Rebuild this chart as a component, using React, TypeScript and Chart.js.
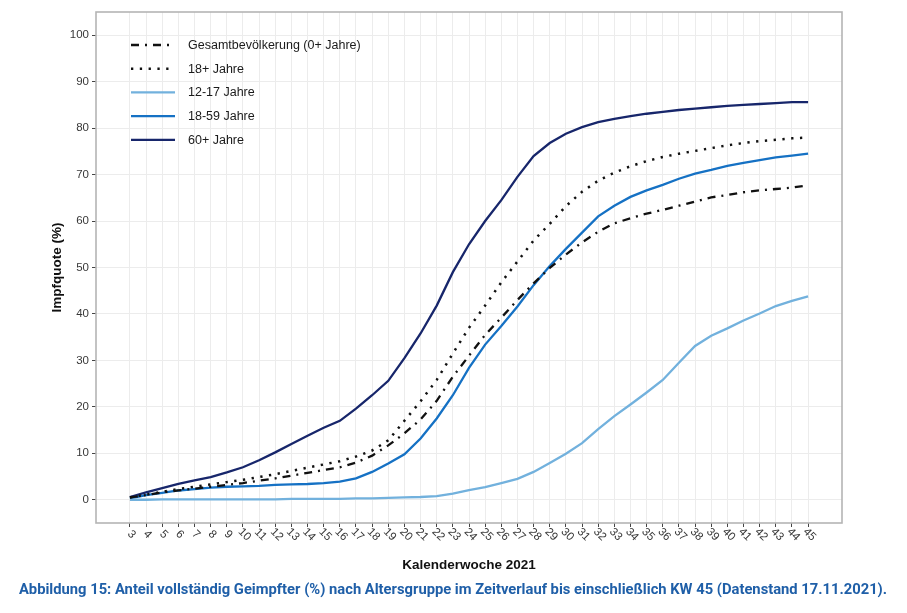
import React, { useEffect, useRef } from "react";
import { Chart, registerables } from "chart.js";

Chart.register(...registerables);

// ---------- data ----------
const weeks = [3, 4, 5, 6, 7, 8, 9, 10, 11, 12, 13, 14, 15, 16, 17, 18, 19, 20, 21, 22, 23, 24, 25, 26, 27, 28, 29, 30, 31, 32, 33, 34, 35, 36, 37, 38, 39, 40, 41, 42, 43, 44, 45];

const gesamt = [0.5, 1.0, 1.6, 2.0, 2.4, 2.8, 3.2, 3.6, 4.1, 4.6, 5.2, 5.8, 6.4, 7.0, 8.0, 9.5, 11.7, 14.3, 17.3, 21.3, 26.5, 31.0, 35.5, 39.2, 43.0, 46.6, 49.9, 52.8, 55.4, 57.7, 59.5, 60.6, 61.6, 62.4, 63.3, 64.2, 65.1, 65.6, 66.2, 66.6, 66.9, 67.2, 67.7];

const plus18 = [0.5, 1.1, 1.7, 2.3, 2.8, 3.3, 3.8, 4.3, 4.9, 5.5, 6.2, 6.9, 7.6, 8.3, 9.3, 10.6, 12.8, 17.0, 21.2, 25.8, 31.5, 37.0, 41.8, 46.8, 51.3, 55.8, 59.4, 63.2, 66.3, 68.7, 70.4, 71.8, 72.9, 73.8, 74.5, 75.1, 75.7, 76.3, 76.8, 77.2, 77.5, 77.8, 78.0];

const age12to17 = [0.0, 0.0, 0.1, 0.1, 0.1, 0.1, 0.1, 0.1, 0.1, 0.1, 0.2, 0.2, 0.2, 0.2, 0.3, 0.3, 0.4, 0.5, 0.6, 0.8, 1.3, 2.1, 2.7, 3.6, 4.5, 6.0, 7.9, 9.9, 12.2, 15.2, 18.0, 20.5, 23.1, 25.8, 29.5, 33.1, 35.3, 36.9, 38.6, 40.1, 41.7, 42.8, 43.8];

const age18to59 = [0.3, 1.0, 1.5, 2.0, 2.3, 2.6, 2.8, 2.9, 3.0, 3.2, 3.3, 3.4, 3.6, 3.9, 4.6, 6.0, 7.8, 9.8, 13.2, 17.5, 22.5, 28.4, 33.4, 37.4, 41.6, 46.2, 50.3, 54.0, 57.5, 61.0, 63.3, 65.2, 66.6, 67.8, 69.1, 70.2, 71.0, 71.9, 72.5, 73.1, 73.7, 74.1, 74.5];

const age60plus = [0.6, 1.6, 2.5, 3.4, 4.2, 4.9, 5.9, 7.0, 8.5, 10.2, 12.0, 13.8, 15.5, 17.0, 19.6, 22.5, 25.6, 30.5, 35.8, 41.8, 49.0, 55.0, 60.0, 64.5, 69.5, 74.0, 76.8, 78.8, 80.2, 81.3, 82.0, 82.6, 83.1, 83.5, 83.9, 84.2, 84.5, 84.8, 85.0, 85.2, 85.4, 85.6, 85.6];

const seriesLabels = ["Gesamtbevölkerung (0+ Jahre)", "18+ Jahre", "12-17 Jahre", "18-59 Jahre", "60+ Jahre"];
const yTicks = [0, 10, 20, 30, 40, 50, 60, 70, 80, 90, 100];
const xTitle = "Kalenderwoche 2021";
const yTitle = "Impfquote (%)";
const caption = "Abbildung 15: Anteil vollständig Geimpfter (%) nach Altersgruppe im Zeitverlauf bis einschließlich KW 45 (Datenstand 17.11.2021).";

const FONT = '"Liberation Sans", Arial, sans-serif';

const toPoints = (vals: number[]) => weeks.map((w, i) => ({ x: w, y: vals[i] }));

const decorPlugin = {
  id: "decor",
  afterDraw(chart: any) {
    const { ctx, chartArea: a, scales } = chart;
    ctx.save();
    // panel border
    ctx.strokeStyle = "#b5b5b5";
    ctx.lineWidth = 1.6;
    ctx.setLineDash([]);
    ctx.strokeRect(a.left, a.top, a.right - a.left, a.bottom - a.top);

    // x tick labels, rotated clockwise
    ctx.fillStyle = "#383838";
    ctx.font = `11.5px ${FONT}`;
    weeks.forEach((w) => {
      const x = scales.x.getPixelForValue(w);
      ctx.save();
      ctx.translate(x + 1.5, a.bottom + 11.5);
      ctx.rotate(Math.PI / 4);
      ctx.textAlign = "center";
      ctx.textBaseline = "middle";
      ctx.fillText(String(w), 0, 0);
      ctx.restore();
    });

    // legend inside panel
    const ds = chart.data.datasets;
    ctx.font = `12.5px ${FONT}`;
    ds.forEach((d: any, i: number) => {
      const y = a.top + 33 + i * 23.7;
      ctx.beginPath();
      ctx.strokeStyle = d.borderColor;
      ctx.lineWidth = d.borderWidth;
      ctx.lineCap = "butt";
      ctx.setLineDash(d.borderDash || []);
      ctx.moveTo(a.left + 35, y);
      ctx.lineTo(a.left + 79, y);
      ctx.stroke();
      ctx.setLineDash([]);
      ctx.fillStyle = "#1a1a1a";
      ctx.textAlign = "left";
      ctx.textBaseline = "middle";
      ctx.fillText(d.label, a.left + 92, y + 0.5);
    });

    // axis titles
    ctx.fillStyle = "#111";
    ctx.font = `bold 13.5px ${FONT}`;
    ctx.textAlign = "center";
    ctx.textBaseline = "middle";
    ctx.fillText(xTitle, (a.left + a.right) / 2, 565);
    ctx.save();
    ctx.translate(57, (a.top + a.bottom) / 2);
    ctx.rotate(-Math.PI / 2);
    ctx.fillText(yTitle, 0, 0);
    ctx.restore();

    // caption
    const fam = '"Liberation Sans Narrow", Roboto, sans-serif';
    ctx.font = `bold 15px ${fam}`;
    const w = ctx.measureText(caption).width;
    const size = Math.min(17, (15 * 868) / w);
    ctx.font = `bold ${size.toFixed(2)}px ${fam}`;
    ctx.fillStyle = "#1f5fa8";
    ctx.fillText(caption, 453, 590);
    ctx.restore();
  },
};

export default function App() {
  const ref = useRef<HTMLCanvasElement>(null);

  useEffect(() => {
    document.body.style.margin = "0";
    if (!ref.current) return;
    const common = { pointRadius: 0, tension: 0, fill: false, borderWidth: 2.3, borderCapStyle: "butt" as const };
    const chart = new Chart(ref.current, {
      type: "line",
      data: {
        datasets: [
          { ...common, label: seriesLabels[0], data: toPoints(gesamt), borderColor: "#111111", borderDash: [8, 6, 2, 6], borderWidth: 2.3 },
          { ...common, label: seriesLabels[1], data: toPoints(plus18), borderColor: "#111111", borderDash: [2.3, 6.5], borderWidth: 2.5 },
          { ...common, label: seriesLabels[2], data: toPoints(age12to17), borderColor: "#72b1dd" },
          { ...common, label: seriesLabels[3], data: toPoints(age18to59), borderColor: "#1571c4" },
          { ...common, label: seriesLabels[4], data: toPoints(age60plus), borderColor: "#17266b" },
        ] as any,
      },
      options: {
        animation: false,
        responsive: false,
        layout: { padding: { top: 12, right: 65, left: 0, bottom: 0 } },
        plugins: { legend: { display: false }, tooltip: { enabled: false } },
        scales: {
          x: {
            type: "linear",
            min: 0.9,
            max: 47.1,
            afterBuildTicks: (s: any) => {
              s.ticks = weeks.map((v) => ({ value: v }));
            },
            afterFit: (s: any) => {
              s.height = 90;
            },
            ticks: { display: false },
            grid: { color: "#ececec", lineWidth: 1, tickLength: 4, tickColor: "#444" },
            border: { display: false },
          },
          y: {
            type: "linear",
            min: -5,
            max: 105,
            afterBuildTicks: (s: any) => {
              s.ticks = yTicks.map((v) => ({ value: v }));
            },
            afterFit: (s: any) => {
              s.width = 96;
            },
            ticks: { color: "#383838", font: { family: FONT, size: 11.5 }, padding: 3 },
            grid: { color: "#ececec", lineWidth: 1, tickLength: 4, tickColor: "#444" },
            border: { display: false },
          },
        },
      },
      plugins: [decorPlugin],
    });
    return () => chart.destroy();
  }, []);

  return (
    <div style={{ width: 907, height: 613, background: "#fff" }}>
      <canvas ref={ref} width={907} height={613} style={{ width: 907, height: 613, display: "block" }} />
    </div>
  );
}
